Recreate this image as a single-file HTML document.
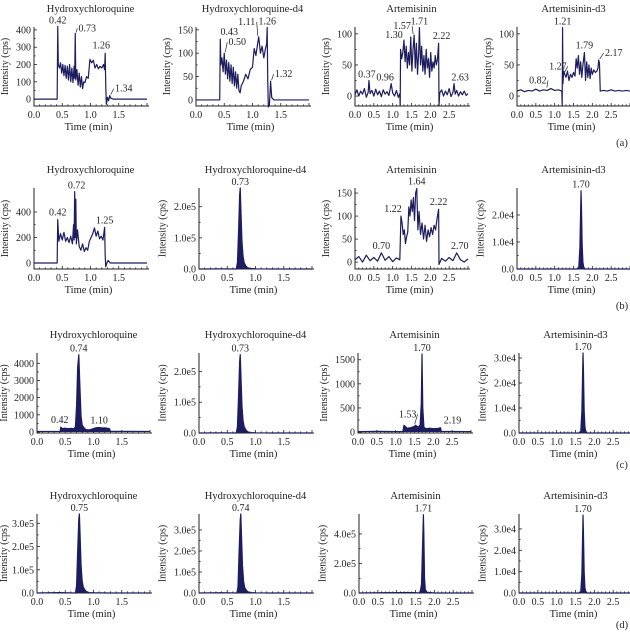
<!DOCTYPE html>
<html><head><meta charset="utf-8">
<style>
html,body{margin:0;padding:0;background:#fff;}
svg{display:block;font-family:"Liberation Serif",serif;}
</style></head>
<body>
<svg id="fig" width="630" height="639" viewBox="0 0 630 639" xmlns="http://www.w3.org/2000/svg"></svg>
<script>
// ---- data: times (min) and intensities (cps) per panel ----
const a1T=[0,0.41,0.42,0.43,0.45,0.47,0.49,0.51,0.53,0.55,0.57,0.59,0.61,0.63,0.65,0.67,0.69,0.71,0.72,0.73,0.74,0.76,0.78,0.80,0.82,0.84,0.86,0.88,0.90,0.93,0.96,0.99,1.02,1.05,1.08,1.11,1.14,1.17,1.20,1.23,1.25,1.26,1.27,1.28,1.30,1.32,1.34,1.36,1.40,2.0];
const a1V=[0,0,420,200,180,210,150,200,135,195,120,190,110,200,100,180,95,190,120,380,110,170,80,150,70,130,60,100,95,130,120,230,210,225,180,200,175,190,180,200,170,265,80,-30,10,-10,20,5,0,0];
const a2T=[0,0.42,0.43,0.44,0.46,0.48,0.50,0.52,0.54,0.56,0.58,0.60,0.62,0.64,0.66,0.68,0.70,0.72,0.74,0.76,0.78,0.80,0.84,0.88,0.92,0.96,1.00,1.03,1.06,1.09,1.11,1.14,1.17,1.20,1.23,1.25,1.26,1.27,1.28,1.30,1.32,1.34,1.38,2.0];
const a2V=[0,0,130,75,90,60,100,55,85,45,80,40,75,35,70,30,60,25,55,20,15,30,40,55,45,65,70,110,95,120,135,100,115,90,110,120,155,40,-15,-10,40,5,0,0];
const a3T=[0,0.05,0.1,0.15,0.2,0.25,0.3,0.35,0.37,0.4,0.45,0.5,0.55,0.6,0.65,0.7,0.75,0.8,0.85,0.9,0.96,1.0,1.05,1.1,1.15,1.19,1.20,1.21,1.24,1.27,1.30,1.33,1.36,1.39,1.42,1.45,1.48,1.51,1.54,1.57,1.60,1.63,1.66,1.69,1.71,1.74,1.77,1.80,1.83,1.86,1.89,1.92,1.95,1.98,2.01,2.04,2.07,2.10,2.13,2.16,2.19,2.22,2.23,2.25,2.3,2.35,2.4,2.45,2.5,2.55,2.6,2.63,2.66,2.7,2.75,2.8,2.85,2.9,2.95,3.0];
const a3V=[2,10,0,8,3,12,-2,6,25,4,9,0,11,2,8,-1,10,3,7,1,20,5,0,9,-2,4,-15,75,60,70,90,55,80,45,70,50,95,40,75,98,45,85,35,70,110,50,80,40,65,35,75,45,60,30,70,40,55,45,65,50,60,85,-15,5,10,0,8,2,12,-1,6,20,3,9,0,7,2,8,1,4];
const a4T=[0,0.1,0.2,0.3,0.4,0.5,0.6,0.7,0.8,0.9,1.0,1.1,1.19,1.20,1.21,1.22,1.24,1.27,1.30,1.34,1.38,1.42,1.46,1.50,1.54,1.57,1.60,1.63,1.66,1.69,1.72,1.75,1.79,1.82,1.85,1.88,1.91,1.94,1.97,2.00,2.04,2.08,2.12,2.15,2.17,2.19,2.21,2.3,2.4,2.5,2.6,2.7,2.8,2.9,3.0];
const a4V=[8,10,7,9,8,11,8,10,9,12,9,10,8,-15,110,20,40,35,30,40,25,35,30,38,32,60,45,65,35,55,30,50,70,25,55,30,50,28,45,35,42,38,40,45,58,52,8,9,8,10,8,9,8,9,8];
const b1T=[0,0.41,0.42,0.44,0.47,0.50,0.53,0.56,0.59,0.62,0.65,0.68,0.70,0.71,0.72,0.73,0.74,0.75,0.77,0.80,0.83,0.86,0.89,0.92,0.95,0.98,1.01,1.04,1.07,1.10,1.13,1.16,1.19,1.22,1.25,1.26,1.27,1.29,1.31,1.35,2.0];
const b1V=[0,0,340,170,230,180,240,170,200,160,210,150,300,180,560,200,500,150,260,130,100,150,90,120,100,170,200,230,275,210,250,190,210,180,280,60,-30,0,20,0,0];
const b2T=[0,0.40,0.66,0.68,0.70,0.72,0.73,0.74,0.76,0.78,0.80,0.83,0.86,0.90,1.0,1.3,2.0];
const b2V=[0,500,0,20000,120000,240000,260000,200000,90000,40000,20000,10000,4000,1500,800,0,0];
const b3T=[0,0.1,0.2,0.3,0.4,0.5,0.6,0.7,0.8,0.9,1.0,1.1,1.19,1.22,1.25,1.28,1.31,1.34,1.37,1.40,1.43,1.46,1.49,1.52,1.55,1.58,1.61,1.64,1.67,1.70,1.74,1.78,1.82,1.86,1.90,1.94,1.98,2.02,2.06,2.10,2.14,2.18,2.22,2.23,2.3,2.4,2.5,2.6,2.7,2.8,2.9,3.0];
const b3V=[5,12,0,15,3,10,2,20,4,12,1,9,5,100,85,60,70,40,55,65,120,100,135,110,140,90,150,160,70,110,60,85,50,80,45,70,55,75,60,80,70,95,115,-5,8,2,10,3,20,5,0,7];
const b4T=[0,1.60,1.64,1.67,1.69,1.70,1.71,1.73,1.75,1.78,3.0];
const b4V=[0,0,500,8000,22000,29000,24000,9000,2500,0,0];
const c1T=[0,0.41,0.42,0.45,0.5,0.55,0.6,0.65,0.68,0.70,0.72,0.74,0.76,0.78,0.80,0.83,0.86,0.9,0.95,1.0,1.05,1.1,1.15,1.2,1.25,1.28,1.3,2.0];
const c1V=[30,30,280,200,220,190,210,180,300,1500,3800,4500,2600,900,400,250,150,120,140,200,250,260,230,240,210,200,40,30];
const c2T=[0,0.40,0.66,0.68,0.70,0.72,0.73,0.74,0.76,0.78,0.80,0.83,0.86,0.90,1.0,1.3,2.0];
const c2V=[0,500,0,20000,120000,235000,255000,200000,90000,40000,20000,10000,4000,1500,800,0,0];
const c3T=[0,0.5,1.0,1.19,1.22,1.25,1.3,1.4,1.5,1.53,1.6,1.65,1.68,1.70,1.72,1.75,1.8,1.9,2.0,2.1,2.19,2.21,2.5,3.0];
const c3V=[10,15,10,10,140,120,80,90,120,140,100,150,600,1620,500,100,70,80,70,70,90,15,12,10];
const c4T=[0,1.60,1.64,1.67,1.69,1.70,1.71,1.73,1.75,1.78,3.0];
const c4V=[0,0,500,9000,25000,32000,26000,9000,2500,0,0];
const d1T=[0,0.40,0.68,0.70,0.72,0.74,0.75,0.76,0.78,0.80,0.82,0.85,0.88,0.92,1.0,1.25,2.0];
const d1V=[0,1500,0,30000,180000,320000,340000,270000,120000,50000,25000,12000,5000,2000,1000,0,0];
const d2T=[0,0.40,0.67,0.69,0.71,0.73,0.74,0.75,0.77,0.79,0.81,0.84,0.87,0.91,1.0,1.25,2.0];
const d2V=[0,1500,0,30000,200000,350000,376000,290000,130000,55000,25000,12000,5000,2000,1000,0,0];
const d3T=[0,1.2,1.45,1.62,1.66,1.69,1.71,1.72,1.74,1.76,1.80,2.0,3.0];
const d3V=[0,3000,3000,0,60000,350000,530000,420000,100000,25000,5000,0,0];
const d4T=[0,1.60,1.64,1.67,1.69,1.70,1.71,1.73,1.75,1.78,3.0];
const d4V=[0,0,500,9000,28000,36500,29000,10000,2500,0,0];

// tick values and labels
const yTicksA1=[0,100,200,300,400], yLabA1=["0","100","200","300","400"];
const yTicksA2=[0,50,100,150], yLabA2=["0","50","100","150"];
const yTicksA3=[0,50,100], yLabA3=["0","50","100"];
const yTicksB1=[0,200,400], yLabB1=["0","200","400"];
const yTicksB3=[0,50,100,150], yLabB3=["0","50","100","150"];
const yTicksE5=[0,100000,200000], yLabE5=["0.0","1.0e5","2.0e5"];
const yTicksE5b=[0,100000,200000,300000], yLabE5b=["0.0","1.0e5","2.0e5","3.0e5"];
const yTicksE5c=[0,200000,400000], yLabE5c=["0.0","2.0e5","4.0e5"];
const yTicksE4=[0,10000,20000], yLabE4=["0.0","1.0e4","2.0e4"];
const yTicksE4b=[0,10000,20000,30000], yLabE4b=["0.0","1.0e4","2.0e4","3.0e4"];
const yTicksC1=[0,1000,2000,3000,4000], yLabC1=["0","1000","2000","3000","4000"];
const yTicksC3=[0,500,1000,1500], yLabC3=["0","500","1000","1500"];
const xTicksH=[0,0.5,1.0,1.5], xLabH=["0.0","0.5","1.0","1.5"];
const xTicksA=[0,0.5,1.0,1.5,2.0,2.5], xLabA=["0.0","0.5","1.0","1.5","2.0","2.5"];

const rows=[{top:27,bot:106,lab:"(a)",ly:146},{top:188,bot:269,lab:"(b)",ly:309},{top:353,bot:433,lab:"(c)",ly:468},{top:514,bot:593,lab:"(d)",ly:628}];
const W=113;
const panels=[
 {r:0,x:34,title:"Hydroxychloroquine",xmax:2,ymin:-40,ymax:417,T:a1T,V:a1V,yt:yTicksA1,yl:yLabA1,xt:xTicksH,xl:xLabH,fill:false,
  labels:[["0.42",0.42,420,0,-3],["0.73",0.73,380,12,-2,1],["1.26",1.26,265,-4,-5],["1.34",1.34,20,14,-4,1]]},
 {r:0,x:196,title:"Hydroxychloroquine-d4",xmax:2,ymin:-13,ymax:156,T:a2T,V:a2V,yt:yTicksA2,yl:yLabA2,xt:xTicksH,xl:xLabH,fill:false,
  labels:[["0.43",0.43,130,9,-4],["0.50",0.50,100,13,-8,1],["1.11",1.11,135,-12,-12,1],["1.26",1.26,155,0,-3],["1.32",1.32,40,13,-4,1]]},
 {r:0,x:355,title:"Artemisinin",xmax:3,ymin:-16,ymax:111,T:a3T,V:a3V,yt:yTicksA3,yl:yLabA3,xt:xTicksA,xl:xLabA,fill:false,
  labels:[["0.37",0.37,25,-2,-3],["0.96",0.96,20,-6,-3],["1.30",1.30,90,-10,-2],["1.57",1.57,98,-12,-6,1],["1.71",1.71,110,0,-3],["2.22",2.22,85,3,-4],["2.63",2.63,20,6,-3]]},
 {r:0,x:517,title:"Artemisinin-d3",xmax:3,ymin:-16,ymax:111,T:a4T,V:a4V,yt:yTicksA3,yl:yLabA3,xt:xTicksA,xl:xLabA,fill:false,
  labels:[["0.82",0.82,12,-10,-5,1],["1.27",1.27,35,-7,-5,1],["1.21",1.21,110,0,-3],["1.79",1.79,70,0,-4],["2.17",2.17,58,15,-4,1]]},
 {r:1,x:34,title:"Hydroxychloroquine",xmax:2,ymin:-47,ymax:588,T:b1T,V:b1V,yt:yTicksB1,yl:yLabB1,xt:xTicksH,xl:xLabH,fill:false,
  labels:[["0.42",0.42,340,0,-4],["0.72",0.72,560,2,-3],["1.25",1.25,280,0,-4]]},
 {r:1,x:199,title:"Hydroxychloroquine-d4",xmax:2,ymin:0,ymax:260000,T:b2T,V:b2V,yt:yTicksE5,yl:yLabE5,xt:xTicksH,xl:xLabH,fill:true,
  labels:[["0.73",0.73,260000,0,-3]]},
 {r:1,x:355,title:"Artemisinin",xmax:3,ymin:-15,ymax:161,T:b3T,V:b3V,yt:yTicksB3,yl:yLabB3,xt:xTicksA,xl:xLabA,fill:false,
  labels:[["0.70",0.70,20,0,-4],["1.22",1.22,100,-8,-4],["1.64",1.64,160,0,-4],["2.22",2.22,115,0,-4],["2.70",2.70,20,3,-4]]},
 {r:1,x:517,title:"Artemisinin-d3",xmax:3,ymin:0,ymax:30000,T:b4T,V:b4V,yt:yTicksE4,yl:yLabE4,xt:xTicksA,xl:xLabA,fill:true,
  labels:[["1.70",1.70,29000,0,-3]]},
 {r:2,x:37,title:"Hydroxychloroquine",xmax:2,ymin:-60,ymax:4600,T:c1T,V:c1V,yt:yTicksC1,yl:yLabC1,xt:xTicksH,xl:xLabH,fill:true,
  labels:[["0.74",0.74,4500,0,-3],["0.42",0.42,280,-1,-4],["1.10",1.10,260,0,-4]]},
 {r:2,x:199,title:"Hydroxychloroquine-d4",xmax:2,ymin:0,ymax:260000,T:c2T,V:c2V,yt:yTicksE5,yl:yLabE5,xt:xTicksH,xl:xLabH,fill:true,
  labels:[["0.73",0.73,255000,0,-3]]},
 {r:2,x:358,title:"Artemisinin",xmax:3,ymin:-20,ymax:1640,T:c3T,V:c3V,yt:yTicksC3,yl:yLabC3,xt:xTicksA,xl:xLabA,fill:true,
  labels:[["1.70",1.70,1620,0,-3],["1.53",1.53,140,-8,-8,1],["2.19",2.19,90,12,-4]]},
 {r:2,x:519,title:"Artemisinin-d3",xmax:3,ymin:0,ymax:32000,T:c4T,V:c4V,yt:yTicksE4b,yl:yLabE4b,xt:xTicksA,xl:xLabA,fill:true,
  labels:[["1.70",1.70,32000,0,-3]]},
 {r:3,x:37,title:"Hydroxychloroquine",xmax:2,ymin:0,ymax:340000,T:d1T,V:d1V,yt:yTicksE5b,yl:yLabE5b,xt:xTicksH,xl:xLabH,fill:true,
  labels:[["0.75",0.75,340000,0,-3]]},
 {r:3,x:199,title:"Hydroxychloroquine-d4",xmax:2,ymin:0,ymax:376000,T:d2T,V:d2V,yt:yTicksE5b,yl:yLabE5b,xt:xTicksH,xl:xLabH,fill:true,
  labels:[["0.74",0.74,376000,0,-3]]},
 {r:3,x:359,title:"Artemisinin",xmax:3,ymin:0,ymax:535000,T:d3T,V:d3V,yt:yTicksE5c,yl:yLabE5c,xt:xTicksA,xl:xLabA,fill:true,
  labels:[["1.71",1.71,530000,0,-3]]},
 {r:3,x:519,title:"Artemisinin-d3",xmax:3,ymin:0,ymax:37000,T:d4T,V:d4V,yt:yTicksE4b,yl:yLabE4b,xt:xTicksA,xl:xLabA,fill:true,
  labels:[["1.70",1.70,36500,0,-3]]}
];

const NS="http://www.w3.org/2000/svg";
const svg=document.getElementById("fig");
const C="#1c1c5e";
function mk(tag,attrs,parent){const e=document.createElementNS(NS,tag);for(const k in attrs)e.setAttribute(k,attrs[k]);(parent||svg).appendChild(e);return e;}

panels.forEach((p,i)=>{
  const row=rows[p.r];
  const g=mk("g",{});
  
  
  const xs=t=>p.x+t/p.xmax*W;
  const ys=v=>row.bot-(v-p.ymin)/(p.ymax-p.ymin)*(row.bot-row.top);
  const tt=mk("text",{x:p.x+W/2,y:row.top-15,"font-size":"10.5","text-anchor":"middle",fill:"#222"},g);
  tt.textContent=p.title;
  
  
  const ax=mk("path",{d:`M${p.x},${row.top}V${row.bot}H${p.x+W+2}`,stroke:"#222","stroke-width":"1",fill:"none"},g);
  
  
  for(let k=0;k<=p.xmax*10;k++){const t=k/10;const X=xs(t);const major=(k%5===0);
    mk("line",{x1:X,x2:X,y1:row.bot,y2:row.bot-(major?3:1.6),stroke:"#222","stroke-width":"0.8"},g);}
  p.xt.forEach((t,j)=>{const e=mk("text",{x:xs(t),y:row.bot+12,"font-size":"10","text-anchor":"middle",fill:"#222"},g);e.textContent=p.xl[j];
    
    });
  const xt=mk("text",{x:p.x+W/2-2,y:row.bot+24,"font-size":"10.5","text-anchor":"middle",fill:"#222"},g);xt.textContent="Time (min)";
  
  
  let maxc=0;
  p.yt.forEach((v,j)=>{const Y=ys(v);mk("line",{x1:p.x,x2:p.x+3,y1:Y,y2:Y,stroke:"#222","stroke-width":"0.8"},g);
    if(j<p.yt.length-1){const Y2=ys((v+p.yt[j+1])/2);mk("line",{x1:p.x,x2:p.x+1.6,y1:Y2,y2:Y2,stroke:"#222","stroke-width":"0.8"},g);}
    const e=mk("text",{x:p.x-3,y:Y+3.5,"font-size":"10","text-anchor":"end",fill:"#222"},g);e.textContent=p.yl[j];
    
    
    let w=0;for(const ch of p.yl[j])w+=(ch==="."?2.5:5);
    maxc=Math.max(maxc,w);});
  const tx=Math.max(7,p.x-3-maxc-8), ty=(row.top+row.bot)/2;
  const yt=mk("text",{x:tx,y:ty,"font-size":"10","text-anchor":"middle",fill:"#222",transform:`rotate(-90 ${tx} ${ty})`},g);
  yt.textContent="Intensity (cps)";
  
  
  const n=Math.min(p.T.length,p.V.length);
  let d="";
  for(let k=0;k<n;k++){d+=(k?"L":"M")+xs(p.T[k]).toFixed(2)+","+ys(p.V[k]).toFixed(2);}
  if(p.fill){
    const fp=mk("path",{d:d+`L${xs(p.T[n-1]).toFixed(2)},${ys(Math.max(0,p.ymin))}L${xs(p.T[0]).toFixed(2)},${ys(Math.max(0,p.ymin))}Z`,fill:C,stroke:"none"},g);
    
    
  }
  const ln=mk("path",{d:d,fill:"none",stroke:C,"stroke-width":"1.2","stroke-linejoin":"round"},g);
  
  
  p.labels.forEach(L=>{const X=xs(L[1]),Y=ys(L[2]);
    const e=mk("text",{x:X+L[3],y:Y+L[4],"font-size":"10","text-anchor":"middle",fill:"#222"},g);e.textContent=L[0];
    
    
    if(L[5]){const lx=X+L[3]+(L[3]>0?-10:10);mk("line",{x1:lx,y1:Y+L[4]-3,x2:X+(L[3]>0?1:-1),y2:Y-1,stroke:"#222","stroke-width":"0.7"},g);}
  });
});
rows.forEach(r=>{const e=mk("text",{x:622,y:r.ly,"font-size":"10.5","text-anchor":"middle",fill:"#222"});e.textContent=r.lab;
  
  });
</script>
</body></html>
